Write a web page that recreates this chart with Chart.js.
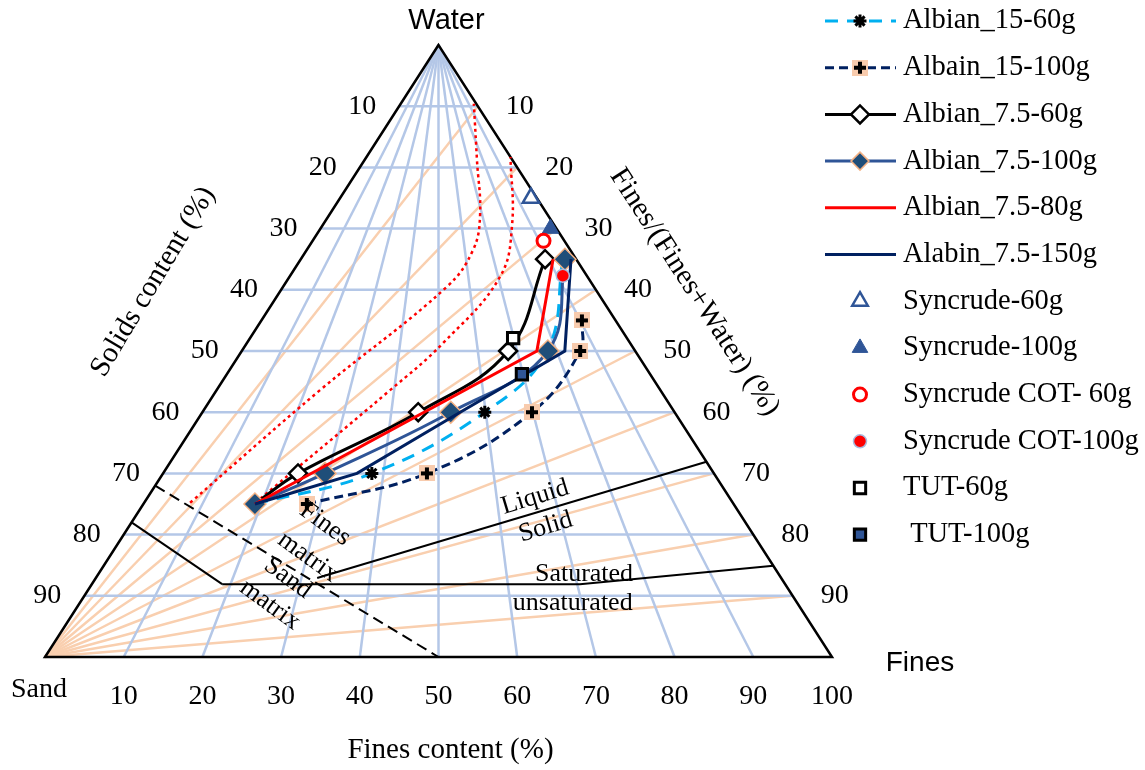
<!DOCTYPE html>
<html>
<head>
<meta charset="utf-8">
<title>Ternary diagram</title>
<script src="https://cdn.jsdelivr.net/npm/chart.js@4.4.1/dist/chart.umd.min.js"></script>
<style>
  html, body { margin: 0; padding: 0; background: #fff; }
  canvas { display: block; }
</style>
</head>
<body>
<canvas id="ternary" width="1145" height="770"></canvas>
<script>
// tick values on the three sides (%)
const gridTicks = [10, 20, 30, 40, 50, 60, 70, 80, 90];
const finesTicks = [10, 20, 30, 40, 50, 60, 70, 80, 90, 100];

// every point is [fines content %, solids content %]
const albian15_60g   = [[18.9, 75], [37.9, 70], [59.8, 60], [77.6, 50], [95.2, 35]];
const albain15_100g  = [[27.7, 75], [47.9, 70], [69.8, 60], [86.0, 50], [90.5, 45]];
const albian75_60g   = [[18.9, 75], [24.5, 70], [45.7, 60], [67.7, 50], [88.7, 35]];
const albian75_100g  = [[18.9, 75], [29.4, 70], [52.6, 60], [77.8, 50], [95.9, 35]];
const albian75_80g   = [[18.9, 75], [75.0, 50], [91.6, 35]];
const alabin75_150g  = [[18.9, 75], [35.2, 70], [54.6, 60], [82.1, 50], [98.1, 35]];
const syncrude60g    = [[97.0, 25]];
const syncrude100g   = [[97.4, 30]];
const syncrudeCot60  = [[91.7, 32]];
const syncrudeCot100 = [[91.9, 37.7]];
const tut60g         = [[69.8, 47.9]];
const tut100g        = [[69.7, 53.8]];

// red dotted limit curves
const limitOuter = [[7.8, 74.8], [23.3, 56.4], [52.7, 39.5], [63.1, 33.5], [69.0, 27.8], [76.0, 18.8], [96.8, 9.6]];
const limitInner = [[18.3, 75.5], [39.1, 56.4], [51.2, 48.7], [70.6, 37.9], [81.8, 29.4], [100, 18.3]];

// black boundaries
const liquidSolid = [[32.3, 87.1], [100, 68.1]];
const saturation  = [[18.8, 88.1], [70.4, 88.1], [100, 85.1]];
const sandEdge    = [[0, 78], [18.8, 88.1]];
const matrixLine  = [[0, 72], [50, 100]];

const SERIF = "'Liberation Serif', 'Times New Roman', serif";
const SANS = "'Liberation Sans', Arial, sans-serif";

// fines content f and solids content s -> cartesian (water fraction on y)
function tern(f, s) {
    const w = 1 - s / 100;
    return { x: 0.5 * w + (f / 100) * (1 - w), y: w };
}
const toXY = pts => pts.map(p => tern(p[0], p[1]));

function pix(chart, f, s) {
    const p = tern(f, s);
    return { x: chart.scales.x.getPixelForValue(p.x), y: chart.scales.y.getPixelForValue(p.y) };
}

// black plus on a peach square
function plusMarker() {
    const c = document.createElement('canvas');
    c.width = 16; c.height = 16;
    const g = c.getContext('2d');
    g.fillStyle = '#F8CBAD';
    g.fillRect(0, 0, 16, 16);
    g.strokeStyle = '#000';
    g.lineWidth = 4;
    g.beginPath();
    g.moveTo(8, 2); g.lineTo(8, 14);
    g.moveTo(2, 8); g.lineTo(14, 8);
    g.stroke();
    return c;
}
const plusImg = plusMarker();

const series = [
    { label: 'Albian_15-60g', data: toXY(albian15_60g), showLine: true, borderColor: '#00B0F0', borderWidth: 3,
      borderDash: [13, 9], tension: 0.4, pointStyle: 'star', pointRadius: 6.5, pointBorderColor: '#000',
      pointBackgroundColor: '#000', pointBorderWidth: 3 },
    { label: 'Albain_15-100g', data: toXY(albain15_100g), showLine: true, borderColor: '#002060', borderWidth: 3,
      borderDash: [9, 5], tension: 0.4, pointStyle: plusImg, pointRadius: 8 },
    { label: 'Albian_7.5-60g', data: toXY(albian75_60g), showLine: true, borderColor: '#000', borderWidth: 3,
      tension: 0.4, pointStyle: 'rectRot', pointRadius: 9, pointBackgroundColor: '#fff',
      pointBorderColor: '#000', pointBorderWidth: 2.5 },
    { label: 'Albian_7.5-100g', data: toXY(albian75_100g), showLine: true, borderColor: '#2F5597', borderWidth: 3,
      tension: 0.4, pointStyle: 'rectRot', pointRadius: 11, pointBackgroundColor: '#1F4E79',
      pointBorderColor: '#F4B183', pointBorderWidth: 1.5 },
    { label: 'Albian_7.5-80g', data: toXY(albian75_80g), showLine: true, borderColor: '#FF0000', borderWidth: 3,
      tension: 0, pointRadius: 0 },
    { label: 'Alabin_7.5-150g', data: toXY(alabin75_150g), showLine: true, borderColor: '#002060', borderWidth: 3,
      tension: 0, pointRadius: 0 },
    { label: 'Syncrude-60g', data: toXY(syncrude60g), pointStyle: 'triangle', pointRadius: 9.5,
      pointBackgroundColor: '#fff', pointBorderColor: '#2F5597', pointBorderWidth: 2.5 },
    { label: 'Syncrude-100g', data: toXY(syncrude100g), pointStyle: 'triangle', pointRadius: 9.5,
      pointBackgroundColor: '#2F5597', pointBorderColor: '#2F5597', pointBorderWidth: 1 },
    { label: 'Syncrude COT- 60g', data: toXY(syncrudeCot60), pointStyle: 'circle', pointRadius: 6.5,
      pointBackgroundColor: '#fff', pointBorderColor: '#FF0000', pointBorderWidth: 3 },
    { label: 'Syncrude COT-100g', data: toXY(syncrudeCot100), pointStyle: 'circle', pointRadius: 6.5,
      pointBackgroundColor: '#FF0000', pointBorderColor: '#A9BCDF', pointBorderWidth: 1.5 },
    { label: 'TUT-60g', data: toXY(tut60g), pointStyle: 'rect', pointRadius: 8,
      pointBackgroundColor: '#fff', pointBorderColor: '#000', pointBorderWidth: 3 },
    { label: ' TUT-100g', data: toXY(tut100g), pointStyle: 'rect', pointRadius: 8,
      pointBackgroundColor: '#2F5597', pointBorderColor: '#000', pointBorderWidth: 3 }
];
// first series at the bottom, like the spreadsheet it came from
series.forEach((d, i) => { d.order = series.length - i; d.clip = false; d.inLegend = true; });

function guide(points, color, width, dash, tension) {
    return { data: toXY(points), showLine: true, borderColor: color, borderWidth: width, borderDash: dash,
             tension: tension, pointRadius: 0, clip: false, order: 100, inLegend: false };
}
const guides = [
    guide(limitOuter, '#FF0000', 2.5, [3, 3.5], 0.4),
    guide(limitInner, '#FF0000', 2.5, [3, 3.5], 0.4),
    guide(liquidSolid, '#000', 2, [], 0),
    guide(saturation, '#000', 2, [], 0),
    guide(sandEdge, '#000', 2, [], 0),
    guide(matrixLine, '#000', 2, [11, 6], 0)
];

function seg(ctx, a, b) {
    ctx.beginPath();
    ctx.moveTo(a.x, a.y);
    ctx.lineTo(b.x, b.y);
    ctx.stroke();
}

function label(ctx, str, x, y, font, angle) {
    ctx.save();
    ctx.translate(x, y);
    if (angle) ctx.rotate(angle * Math.PI / 180);
    ctx.font = font;
    ctx.fillStyle = '#000';
    ctx.textAlign = 'center';
    ctx.textBaseline = 'middle';
    ctx.fillText(String(str), 0, 0);
    ctx.restore();
}

// grid and frame under the data
const ternaryGrid = {
    id: 'ternaryGrid',
    beforeDatasetsDraw(chart) {
        const ctx = chart.ctx;
        const P = (f, s) => pix(chart, f, s);
        ctx.save();
        ctx.lineWidth = 2.5;
        ctx.strokeStyle = '#F9CFAF';
        gridTicks.forEach(r => seg(ctx, P(0, 100), P(100, r)));
        ctx.strokeStyle = '#B4C7E7';
        gridTicks.forEach(f => seg(ctx, P(f, 0), P(f, 100)));
        gridTicks.forEach(s => seg(ctx, P(0, s), P(100, s)));

        ctx.strokeStyle = '#000';
        ctx.lineWidth = 2.5;
        ctx.lineJoin = 'miter';
        const a = P(0, 0), b = P(0, 100), c = P(100, 100);
        ctx.beginPath();
        ctx.moveTo(a.x, a.y); ctx.lineTo(b.x, b.y); ctx.lineTo(c.x, c.y); ctx.closePath();
        ctx.stroke();
        ctx.restore();
    }
};

// tick labels, titles, region names and the legend
const ternaryText = {
    id: 'ternaryText',
    afterDatasetsDraw(chart) {
        const ctx = chart.ctx;
        const P = (f, s) => pix(chart, f, s);
        const tickFont = '28px ' + SERIF;
        gridTicks.forEach(s => { const p = P(0, s); label(ctx, s, p.x - 37, p.y, tickFont); });
        gridTicks.forEach(r => { const p = P(100, r); label(ctx, r, p.x + 42, p.y, tickFont); });
        finesTicks.forEach(f => { const p = P(f, 100); label(ctx, f, p.x, p.y + 40, tickFont); });

        const top = P(0, 0), sand = P(0, 100), fines = P(100, 100);
        label(ctx, 'Water', top.x + 8, top.y - 24, '29px ' + SANS);
        label(ctx, 'Sand', sand.x - 6, sand.y + 33, '28px ' + SERIF);
        label(ctx, 'Fines', fines.x + 88, fines.y + 6, '28px ' + SANS);
        label(ctx, 'Fines content (%)', P(50, 100).x + 12, sand.y + 93, '29px ' + SERIF);

        const sc = P(0, 38.7);
        label(ctx, 'Solids content (%)', sc.x - 133, sc.y, '29px ' + SERIF, -59);
        const fw = P(100, 40.4);
        label(ctx, 'Fines/(Fines+Water) (%)', fw.x + 97, fw.y, '29px ' + SERIF, 57);

        const regionFont = '26px ' + SERIF;
        [
            ['Fines', 31.6, 78.3, 36], ['matrix', 30.2, 83.7, 36],
            ['Sand', 28.0, 87.1, 36], ['matrix', 26.6, 91.5, 36],
            ['Liquid', 66.6, 73.9, -17], ['Solid', 67.3, 78.8, -17],
            ['Saturated', 71.4, 86.4, 0], ['unsaturated', 68.7, 91.2, 0]
        ].forEach(t => { const p = P(t[1], t[2]); label(ctx, t[0], p.x, p.y, regionFont, t[3]); });

        // legend: line sample, marker, name
        const rows = chart.data.datasets.filter(d => d.inLegend);
        ctx.save();
        rows.forEach((d, i) => {
            const y = 21 + i * 46.7;
            if (d.showLine) {
                ctx.strokeStyle = d.borderColor;
                ctx.lineWidth = d.borderWidth;
                ctx.setLineDash(d.borderDash || []);
                ctx.lineCap = 'butt';
                ctx.beginPath(); ctx.moveTo(825, y); ctx.lineTo(896, y); ctx.stroke();
                ctx.setLineDash([]);
            }
            if (d.pointRadius > 0) {
                ctx.fillStyle = d.pointBackgroundColor || '#000';
                ctx.strokeStyle = d.pointBorderColor || '#000';
                ctx.lineWidth = d.pointBorderWidth || 1;
                Chart.helpers.drawPoint(ctx, {
                    pointStyle: d.pointStyle, rotation: 0,
                    radius: Math.min(d.pointRadius, 9), borderWidth: d.pointBorderWidth || 1
                }, 860, y);
            }
            ctx.font = '28.5px ' + SERIF;
            ctx.fillStyle = '#000';
            ctx.textAlign = 'left';
            ctx.textBaseline = 'middle';
            ctx.fillText(d.label, 903, y);
        });
        ctx.restore();
    }
};

new Chart(document.getElementById('ternary'), {
    type: 'scatter',
    data: { datasets: series.concat(guides) },
    options: {
        responsive: false,
        animation: false,
        devicePixelRatio: 1,
        events: [],
        layout: { padding: { left: 45, right: 313, top: 45, bottom: 113 } },
        scales: {
            x: { type: 'linear', min: 0, max: 1, display: false },
            y: { type: 'linear', min: 0, max: 1, display: false }
        },
        plugins: { legend: { display: false }, tooltip: { enabled: false } }
    },
    plugins: [ternaryGrid, ternaryText]
});
</script>
</body>
</html>
